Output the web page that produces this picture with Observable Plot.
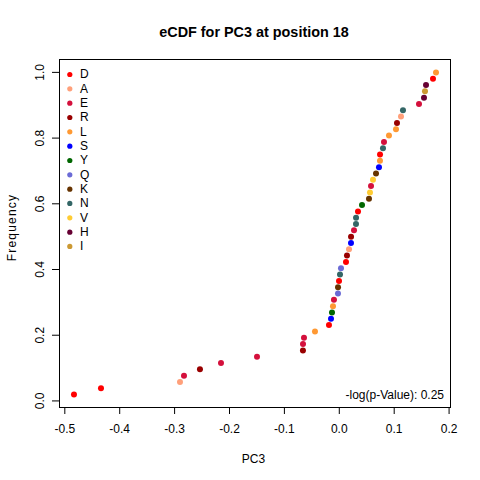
<!DOCTYPE html>
<html>
<head>
<meta charset="utf-8">
<script src="https://cdn.jsdelivr.net/npm/d3@7"></script>
<script src="https://cdn.jsdelivr.net/npm/@observablehq/plot@0.6"></script>
<style>
  html, body { margin: 0; padding: 0; background: white; }
  #chart { width: 480px; height: 480px; }
</style>
</head>
<body>
<div id="chart"></div>
<script>
// Residue (amino acid) of each observation, in sorted order
const residues = ["D","D","A","E","R","E","E","R","E","E","L","D","S","Y","L","E","Q","K","D","N","Q","D","R","A","S","R","E","N","N","D","Y","K","V","E","V","K","S","L","D","N","E","L","L","R","A","N","E","H","I","H","D","L"];
// PC3 value of each observation
const pc3 = [-0.4833,-0.4341,-0.2902,-0.2829,-0.2538,-0.2155,-0.1499,-0.0662,-0.0661,-0.0643,-0.0443,-0.0188,-0.0151,-0.0133,-0.0115,-0.0097,-0.0024,-0.0023,-0.0005,0.0013,0.0031,0.0122,0.0140,0.0177,0.0213,0.0214,0.0268,0.0304,0.0305,0.0341,0.0414,0.0541,0.0559,0.0578,0.0614,0.0669,0.0723,0.0741,0.0742,0.0796,0.0814,0.0905,0.1033,0.1051,0.1124,0.1160,0.1452,0.1543,0.1561,0.1580,0.1707,0.1762];
// Legend categories and colours
const legendLetters = ["D","A","E","R","L","S","Y","Q","K","N","V","H","I"];
const legendColors = ["#FF0000","#FFA07A","#D4103C","#990000","#FF9933","#0000FF","#006600","#6B6BD6","#663300","#336666","#FFCC33","#660033","#CC9933"];
// Tick values
const xTicks = [-0.5,-0.4,-0.3,-0.2,-0.1,0.0,0.1,0.2];
const yTicks = [0.0,0.2,0.4,0.6,0.8,1.0];
const titleText = "eCDF for PC3 at position 18";
const pText = "-log(p-Value): 0.25";

// empirical CDF
const n = pc3.length;
const data = pc3.map((v, i) => ({x: v, aa: residues[i]}))
  .sort((a, b) => a.x - b.x)
  .map((d, i) => ({...d, freq: (i + 1) / n}));

// R-style 4% domain extension
function ext([lo, hi]) { const e = (hi - lo) * 0.04; return [lo - e, hi + e]; }
const xDom = ext(d3.extent(data, d => d.x));
const yDom = ext(d3.extent(data, d => d.freq));

const fmt = d => d.toFixed(1);
const font = "'Liberation Sans', Arial, Helvetica, sans-serif";

const legendMarks = legendLetters.flatMap((l, i) => [
  Plot.dot([l], {frameAnchor: "top-left", dx: 10.3, dy: 15 + i * 14.33, r: 2.6, fill: d => d, stroke: null}),
  Plot.text([l], {frameAnchor: "top-left", dx: 20.5, dy: 15 + i * 14.33, text: d => d, textAnchor: "start", lineAnchor: "middle", fontSize: 12, fill: "black"})
]);

const chart = Plot.plot({
  width: 480,
  height: 480,
  marginLeft: 59,
  marginRight: 30,
  marginTop: 59,
  marginBottom: 73,
  style: {fontFamily: font, fontSize: "12px", background: "white", color: "black", overflow: "visible"},
  x: {domain: xDom},
  y: {domain: yDom},
  color: {type: "ordinal", domain: legendLetters, range: legendColors},
  marks: [
    Plot.frame({stroke: "black", strokeWidth: 1}),
    Plot.axisX({ticks: xTicks, tickSize: 7, tickPadding: 10, tickFormat: fmt, label: null, fontSize: 12, stroke: "black"}),
    Plot.axisY({ticks: yTicks, tickSize: 7, tickPadding: 9, tickRotate: -90, textAnchor: "middle", lineAnchor: "bottom", tickFormat: fmt, label: null, fontSize: 12, stroke: "black"}),
    Plot.dot(data, {x: "x", y: "freq", fill: "aa", r: 3, stroke: null}),
    ...legendMarks,
    Plot.text([pText], {frameAnchor: "bottom-right", dx: -6.5, dy: -12.5, text: d => d, textAnchor: "end", lineAnchor: "middle", fontSize: 12, fill: "black"}),
    Plot.text(["PC3"], {frameAnchor: "bottom", dx: -1.5, dy: 55, text: d => d, textAnchor: "middle", lineAnchor: "bottom", fontSize: 12, fill: "black"}),
    Plot.text(["Frequency"], {frameAnchor: "left", dx: -43.7, dy: -6, rotate: -90, text: d => d, textAnchor: "middle", lineAnchor: "bottom", fontSize: 12, fill: "black", className: "ylab"}),
    Plot.text([titleText], {frameAnchor: "top", dx: -1, dy: -22.5, text: d => d, textAnchor: "middle", lineAnchor: "bottom", fontSize: 14.4, fontWeight: "bold", fill: "black"})
  ]
});
d3.select(chart).selectAll("text").filter(function() { return this.textContent === "Frequency"; })
  .style("letter-spacing", "1.2px");
document.getElementById("chart").appendChild(chart);
</script>
</body>
</html>
